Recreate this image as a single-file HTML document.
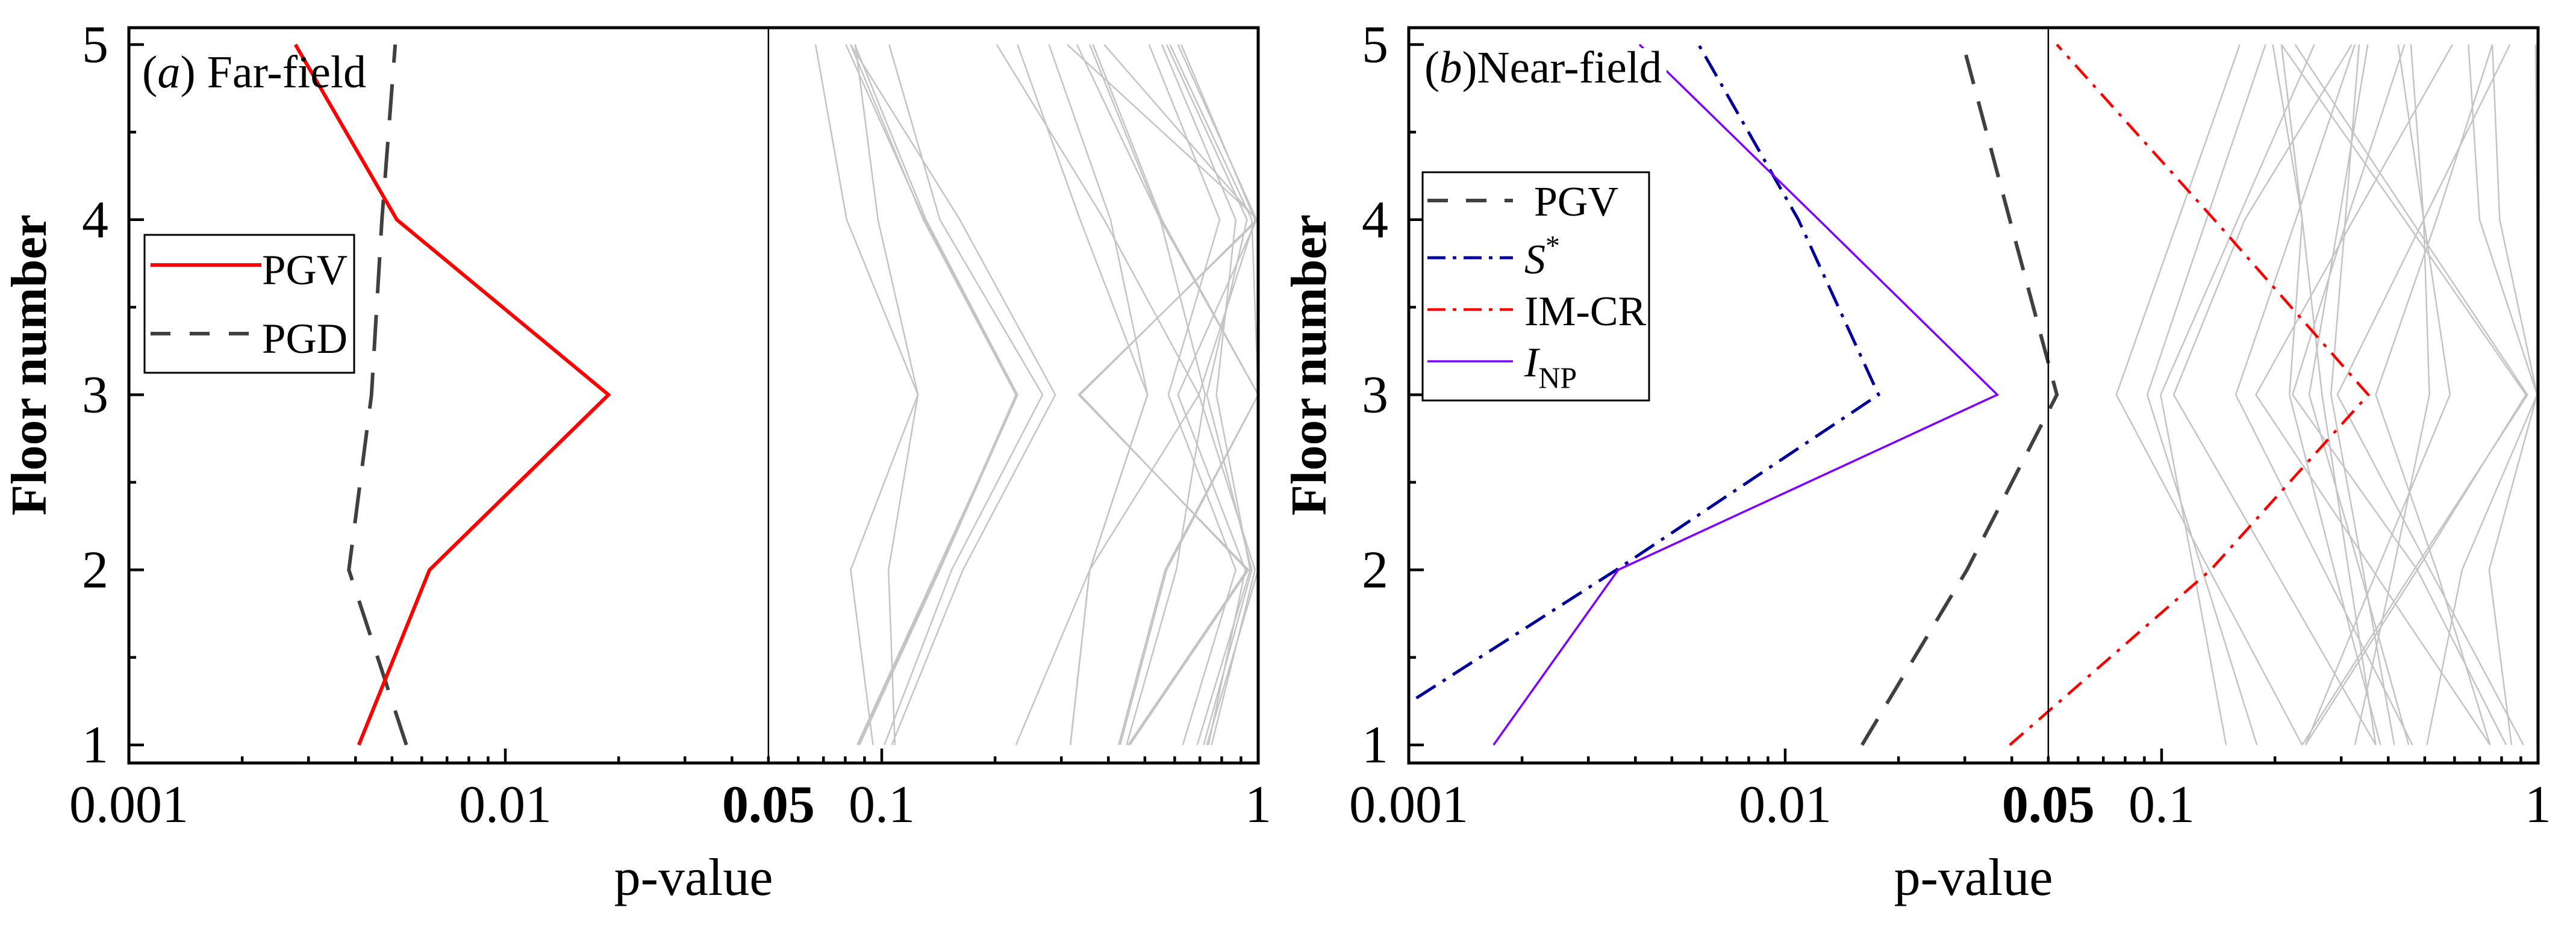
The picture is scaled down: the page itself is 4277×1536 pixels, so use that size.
<!DOCTYPE html>
<html><head><meta charset="utf-8">
<style>
html,body{margin:0;padding:0;background:#fff;}
svg{display:block;font-family:"Liberation Serif",serif;}
</style></head>
<body>
<svg id="chart" width="4277" height="1536" viewBox="0 0 4277 1536" xmlns="http://www.w3.org/2000/svg">
<defs>
<clipPath id="clipA"><rect x="214" y="46" width="1875" height="1221"/></clipPath>
<clipPath id="clipB"><rect x="2339" y="46" width="1875" height="1221"/></clipPath>
</defs>
<rect width="4277" height="1536" fill="#fff"/>
</svg>
<script>
// ---- data ----
const floors = [1, 2, 3, 4, 5];
const xTickValues = [0.001, 0.01, 0.05, 0.1, 1];
const xTickLabels = ["0.001", "0.01", "0.05", "0.1", "1"];
const yTickValues = [1, 2, 3, 4, 5];
const yTickLabels = ["1", "2", "3", "4", "5"];
const significance = 0.05;

// panel (a) far-field
const farPGV = [0.00408, 0.00629, 0.0188, 0.00515, 0.00277];
const farPGD = [0.00546, 0.00384, 0.00441, 0.00470, 0.00510];
const farOthers = [
 [0.0948,0.0827,0.1248,0.0807,0.0667],
 [0.1084,0.1042,0.1248,0.0977,0.0851],
 [0.086,0.1404,0.2294,0.1298,0.0803],
 [0.0865,0.1418,0.2272,0.129,0.0827],
 [0.0873,0.1427,0.2294,0.1311,0.0848],
 [0.1016,0.1534,0.2674,0.1427,0.1046],
 [0.1063,0.1643,0.2892,0.1612,0.0827],
 [0.2272,0.3568,0.508,0.3364,0.2294],
 [0.3171,0.3568,0.508,0.4054,0.278],
 [0.4258,0.5658,1.0,0.5495,0.3568],
 [0.4299,0.5715,1.0,0.5549,0.364],
 [0.4471,0.6061,0.7234,0.5495,0.33],
 [0.456,0.9428,0.3333,1.0,0.311],
 [0.4515,0.9336,0.3364,0.9902,0.3898],
 [0.6304,0.8716,0.5771,0.7901,0.513],
 [0.6887,0.9521,0.7747,0.8716,0.5549],
 [0.7164,0.9616,0.7305,0.9336,0.5715],
 [0.7305,1.0,1.0,0.9616,0.5829],
 [0.752,0.9806,0.6956,0.9806,0.6242],
 [0.7377,0.9245,0.6121,0.9902,0.6121],
 [0.3171,0.3568,0.6956,0.3898,0.202]
];

// panel (b) near-field
const nearPGV = [0.016, 0.0304, 0.0527, 0.0395, 0.0297];
const nearSstar = [0.00067, 0.00356, 0.0177, 0.01084, 0.00589];
const nearIMCR = [0.0395, 0.135, 0.354, 0.138, 0.0527];
const nearINP = [0.00168, 0.0036, 0.0366, 0.01228, 0.0041];
const nearOthers = [
 [0.2363,0.1338,0.0758,0.1107,0.1614],
 [0.1791,0.1282,0.0916,0.1315,0.1888],
 [0.1484,0.1216,0.0994,0.1592,0.2545],
 [0.3705,0.1998,0.1077,0.1663,0.32],
 [0.4639,0.2699,0.1574,0.2272,0.3263],
 [0.7459,0.3633,0.178,0.3231,0.5925],
 [0.3815,0.2873,0.2185,0.2363,0.2081],
 [0.8225,0.4777,0.2228,0.3108,0.4418],
 [0.3705,0.3138,0.2668,0.2363,0.1974],
 [0.4532,0.336,0.2467,0.2959,0.3528],
 [0.415,0.3427,0.2818,0.3077,0.3347],
 [0.3263,0.4125,0.5145,0.4967,0.4594],
 [0.241,0.3741,0.5833,0.4967,0.4249],
 [0.2363,0.4684,0.9376,0.4594,0.2263],
 [0.241,0.4777,0.9284,0.4418,0.2081],
 [0.8503,0.7415,0.994,0.6993,0.6531],
 [0.5066,0.6281,0.994,0.7909,0.7561],
 [0.994,0.994,0.994,0.994,0.9845],
 [0.9142,0.5165,0.293,0.4967,0.842],
 [0.7459,0.5372,0.3705,0.5372,0.7561]
];

// ---- drawing ----
const NS = "http://www.w3.org/2000/svg";
const svg = document.getElementById("chart");
const PX_PER_DECADE = 625;
const Y_TOP_FLOOR = 74, PX_PER_FLOOR = 290.75;
const AX_TOP = 46, AX_BOT = 1267;

function xScale(p, x0){ return x0 + PX_PER_DECADE * (Math.log10(p) + 3); }
function yScale(f){ return Y_TOP_FLOOR + (5 - f) * PX_PER_FLOOR; }

function mk(tag, attrs, parent){
  const e = document.createElementNS(NS, tag);
  for (const k in attrs) e.setAttribute(k, attrs[k]);
  (parent || svg).appendChild(e);
  return e;
}

function drawSeries(vals, x0, g, style, name){
  const pts = vals.map((v,i)=> xScale(v,x0).toFixed(1)+","+yScale(floors[i]).toFixed(1)).join(" ");
  const pl = mk("polyline", Object.assign({points: pts, fill:"none", "stroke-linejoin":"miter"}, style), g);
  
  
  return pl;
}

function drawPanel(x0, clipId, others, tag){
  const right = x0 + 1875;
  const g = mk("g", {"clip-path":"url(#"+clipId+")"});
  
  
  others.forEach((vals, i) => {
    drawSeries(vals, x0, g, {stroke:"#c4c4c4", "stroke-width":2.5}, tag + '-gray-line-' + (i+1));
  });
  const sx = xScale(significance, x0);
  const sl = mk("line", {x1:sx, x2:sx, y1:AX_TOP, y2:AX_BOT, stroke:"#000", "stroke-width":2.5});
  
  
  const fr = mk("rect", {x:x0, y:AX_TOP, width:1875, height:AX_BOT-AX_TOP, fill:"none", stroke:"#000", "stroke-width":5});
  
  
  for (let d = -3; d < 0; d++){
    for (let m = 1; m <= 9; m++){
      const v = m * Math.pow(10, d);
      const x = xScale(v, x0);
      if (m === 1 && d === -3) continue;
      const len = (m === 1) ? 24 : 11;
      const t = mk("line", {x1:x, x2:x, y1:AX_BOT, y2:AX_BOT-len, stroke:"#000", "stroke-width":4.5});
      
      
    }
  }
  xTickValues.forEach((v,i)=>{
    const t = mk("text", {x:xScale(v,x0), y:1365, "font-size":88, "text-anchor":"middle", fill:"#000"});
    if (v === significance) t.setAttribute("font-weight","bold");
    t.textContent = xTickLabels[i];
    
    
  });
  for (let f = 1; f <= 5; f += 0.5){
    const y = yScale(f);
    const len = (f % 1 === 0) ? 25 : 12;
    const t = mk("line", {x1:x0, x2:x0+len, y1:y, y2:y, stroke:"#000", "stroke-width":4.5});
    
    
  }
  yTickValues.forEach((v,i)=>{
    const t = mk("text", {x:x0-34, y:yScale(v)+29, "font-size":88, "text-anchor":"end", fill:"#000"});
    t.textContent = yTickLabels[i];
    
    
  });
  const xt = mk("text", {x:(x0+right)/2, y:1486, "font-size":88, "text-anchor":"middle", fill:"#000"});
  xt.textContent = "p-value";
  
  
  const yx = x0 - 138, yy = 606;
  const yt = mk("text", {x:yx, y:yy, "font-size":84, "font-weight":"bold", "text-anchor":"middle", fill:"#000", transform:"rotate(-90 "+yx+" "+yy+")"});
  yt.textContent = "Floor number";
  
  
  return g;
}

const gA = drawPanel(214, "clipA", farOthers, "far-field");
drawSeries(farPGD, 214, gA, {stroke:"#404040","stroke-width":6,"stroke-dasharray":"60,36"}, "far-pgd-line");
drawSeries(farPGV, 214, gA, {stroke:"#ff0000","stroke-width":6}, "far-pgv-line");

const gB = drawPanel(2339, "clipB", nearOthers, "near-field");
drawSeries(nearPGV, 2339, gB, {stroke:"#404040","stroke-width":6,"stroke-dasharray":"50,30"}, "near-pgv-line");
drawSeries(nearSstar, 2339, gB, {stroke:"#00009c","stroke-width":5,"stroke-dasharray":"38,14,6,14"}, "near-sstar-line");
drawSeries(nearIMCR, 2339, gB, {stroke:"#ff0000","stroke-width":4.5,"stroke-dasharray":"30,14,6,14"}, "near-imcr-line");
drawSeries(nearINP, 2339, gB, {stroke:"#7f00ff","stroke-width":3.5}, "near-inp-line");

const wb = mk("rect", {x:2350, y:80, width:417, height:78, fill:"#fff"});


</script>
<svg style="position:absolute;left:0;top:0" width="4277" height="1536">
  <text x="236" y="145" font-family="Liberation Serif, serif" font-size="76">(<tspan font-style="italic">a</tspan>) Far-field</text>
  <text x="2365" y="137" font-family="Liberation Serif, serif" font-size="75">(<tspan font-style="italic">b</tspan>)Near-field</text>

  <g>
    <rect x="240" y="390" width="348" height="229" fill="#fff" stroke="#000" stroke-width="3"/>
    <g>
      <line x1="250" x2="434" y1="440" y2="440" stroke="#ff0000" stroke-width="6"/>
      <text x="435" y="472" font-family="Liberation Serif, serif" font-size="71">PGV</text>
    </g>
    <g>
      <line x1="250" x2="416" y1="554" y2="554" stroke="#404040" stroke-width="6" stroke-dasharray="33,32"/>
      <text x="435" y="586" font-family="Liberation Serif, serif" font-size="71">PGD</text>
    </g>
  </g>

  <g>
    <rect x="2362" y="286" width="376" height="379" fill="#fff" stroke="#000" stroke-width="3"/>
    <g>
      <line x1="2370" x2="2512" y1="333" y2="333" stroke="#404040" stroke-width="6" stroke-dasharray="34,30"/>
      <text x="2547" y="358" font-family="Liberation Serif, serif" font-size="70">PGV</text>
    </g>
    <g>
      <line x1="2370" x2="2512" y1="428" y2="428" stroke="#00009c" stroke-width="5" stroke-dasharray="30,12,6,12"/>
      <text x="2531" y="454" font-family="Liberation Serif, serif" font-size="70"><tspan font-style="italic">S</tspan><tspan dy="-30" font-size="48">*</tspan></text>
    </g>
    <g>
      <line x1="2370" x2="2512" y1="514" y2="514" stroke="#ff0000" stroke-width="4.5" stroke-dasharray="30,12,6,12"/>
      <text x="2531" y="540" font-family="Liberation Serif, serif" font-size="70">IM-CR</text>
    </g>
    <g>
      <line x1="2370" x2="2512" y1="600" y2="600" stroke="#7f00ff" stroke-width="3.5"/>
      <text x="2531" y="625" font-family="Liberation Serif, serif" font-size="70"><tspan font-style="italic">I</tspan><tspan dy="19" font-size="50">NP</tspan></text>
    </g>
  </g>
</svg>
</body></html>
